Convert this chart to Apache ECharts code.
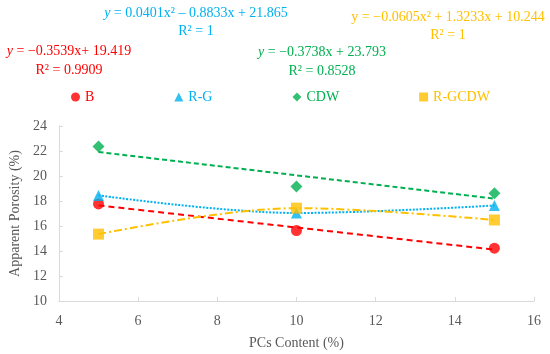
<!DOCTYPE html>
<html>
<head>
<meta charset="utf-8">
<script src="https://cdn.jsdelivr.net/npm/echarts@6/dist/echarts.min.js"></script>
<style>html,body{margin:0;padding:0;background:#fff;}#c{width:550px;height:354px;}</style>
</head>
<body>
<div id="c"></div>
<script>
// Data
const xValues = [5, 10, 15];
const seriesNames = ['B', 'R-G', 'CDW', 'R-GCDW'];
const bValues = [17.77, 15.64, 14.23];
const rgValues = [18.45, 17.04, 17.64];
const cdwValues = [22.37, 19.17, 18.63];
const rgcdwValues = [15.35, 17.43, 16.48];
// linear trendline end values (at x=5 and x=15)
const bTrend = [17.65, 14.11];
const cdwTrend = [21.92, 18.19];
const trendX = [5, 15];
const xTicks = [4, 6, 8, 10, 12, 14, 16];
const yTicks = [10, 12, 14, 16, 18, 20, 22, 24];

const colors = { 'B': '#FF0000', 'R-G': '#00B0F0', 'CDW': '#00B050', 'R-GCDW': '#FFC000' };
const symbols = { 'B': 'circle', 'R-G': 'triangle', 'CDW': 'diamond', 'R-GCDW': 'rect' };
const sizes = { 'B': 11, 'R-G': 11, 'CDW': 12, 'R-GCDW': 11 };
const valuesMap = { 'B': bValues, 'R-G': rgValues, 'CDW': cdwValues, 'R-GCDW': rgcdwValues };

const font = '"Liberation Serif", "DejaVu Serif", serif';
const pair = (xs, ys) => xs.map((x, i) => [x, ys[i]]);

const series = [];
// trendlines
series.push({ name: 'B trend', type: 'line', data: pair(trendX, bTrend), symbol: 'none', silent: true,
  lineStyle: { color: colors['B'], width: 2, type: [6, 4] }, z: 1 });
series.push({ name: 'CDW trend', type: 'line', data: pair(trendX, cdwTrend), symbol: 'none', silent: true,
  lineStyle: { color: colors['CDW'], width: 2, type: [5, 3] }, z: 1 });
series.push({ name: 'R-G trend', type: 'line', data: pair(xValues, rgValues), symbol: 'none', smooth: 0.35, silent: true,
  lineStyle: { color: colors['R-G'], width: 2, type: [2, 1.5] }, z: 1 });
series.push({ name: 'R-GCDW trend', type: 'line', data: pair(xValues, rgcdwValues), symbol: 'none', smooth: 0.35, silent: true,
  lineStyle: { color: colors['R-GCDW'], width: 2, type: [8, 3, 2, 3] }, z: 1 });
// points
seriesNames.forEach(n => {
  series.push({ name: n, type: 'scatter', data: pair(xValues, valuesMap[n]), symbol: symbols[n], symbolSize: sizes[n],
    itemStyle: { color: colors[n] }, z: 3 });
});

function eqRich(parts, color, cx, y) {
  return { type: 'text', x: cx, y: y,
    style: { text: parts, fill: color, fontSize: 14, fontFamily: font, align: 'center', verticalAlign: 'middle',
      rich: { i: { fontStyle: 'italic', fontSize: 14, fontFamily: font, fill: color } } } };
}

const chart = echarts.init(document.getElementById('c'), null, { renderer: 'canvas' });
chart.setOption({
  animation: false,
  backgroundColor: '#fff',
  grid: { left: 58, right: 16, top: 126, bottom: 53 },
  legend: {
    data: seriesNames.map(n => ({ name: n, icon: symbols[n], textStyle: { color: colors[n] } })),
    top: 85, left: 66, itemWidth: 9, itemHeight: 9, itemGap: 80,
    textStyle: { fontFamily: font, fontSize: 14 }, selectedMode: false
  },
  xAxis: {
    type: 'value', min: 4, max: 16, interval: 2,
    name: 'PCs Content (%)', nameLocation: 'middle', nameGap: 35,
    nameTextStyle: { color: '#595959', fontFamily: font, fontSize: 14 },
    axisLine: { lineStyle: { color: '#D9D9D9', width: 1 } },
    axisTick: { inside: true, length: 4, lineStyle: { color: '#D9D9D9' } },
    axisLabel: { color: '#595959', fontFamily: font, fontSize: 14, margin: 13 },
    splitLine: { show: false }
  },
  yAxis: {
    type: 'value', min: 10, max: 24, interval: 2,
    name: 'Apparent Porosity (%)', nameLocation: 'middle', nameGap: 33,
    nameTextStyle: { color: '#595959', fontFamily: font, fontSize: 14 },
    axisLine: { show: true, lineStyle: { color: '#D9D9D9', width: 1 } },
    axisTick: { show: true, inside: true, length: 4, lineStyle: { color: '#D9D9D9' } },
    axisLabel: { color: '#595959', fontFamily: font, fontSize: 14, margin: 12 },
    splitLine: { show: false }
  },
  graphic: [
    eqRich('{i|y} = 0.0401x² – 0.8833x + 21.865', colors['R-G'], 196, 13),
    eqRich('R² = 1', colors['R-G'], 196, 31),
    eqRich('y = −0.0605x² + 1.3233x + 10.244', colors['R-GCDW'], 448, 17),
    eqRich('R² = 1', colors['R-GCDW'], 448, 35),
    eqRich('{i|y} = −0.3539x+ 19.419', colors['B'], 69, 51),
    eqRich('R² = 0.9909', colors['B'], 69, 70),
    eqRich('{i|y} = −0.3738x + 23.793', colors['CDW'], 322, 52),
    eqRich('R² = 0.8528', colors['CDW'], 322, 71)
  ],
  series: series
});
</script>
</body>
</html>
